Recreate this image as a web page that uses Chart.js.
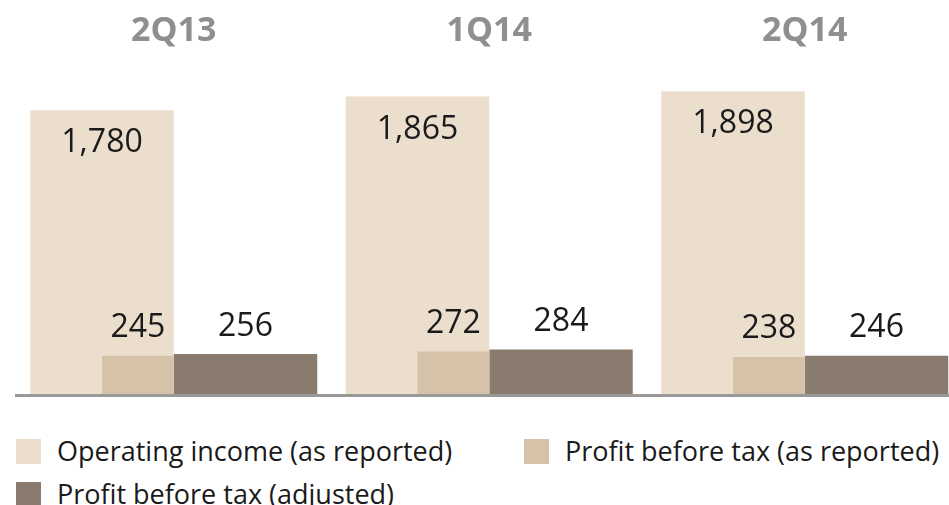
<!DOCTYPE html>
<html lang="en">
<head>
    <meta charset="UTF-8">
    <meta name="viewport" content="width=device-width, initial-scale=1.0">
    <title>Operating income and profit before tax</title>
    <script src="https://cdn.jsdelivr.net/npm/chart.js"></script>
    <style>
        html, body {
            margin: 0;
            padding: 0;
            background: #ffffff;
            width: 949px;
            height: 505px;
            overflow: hidden;
        }
        .chart-box {
            position: absolute;
            left: 0;
            top: 0;
            width: 963px;
            height: 400px;
        }
        .legend {
            position: absolute;
            left: 16px;
            top: 439px;
            display: grid;
            grid-template-columns: 508px 425px;
            row-gap: 17.7px;
            font-family: "Open Sans", sans-serif;
            font-size: 27px;
            color: #1a1a1a;
        }
        .legend-item {
            display: flex;
            align-items: center;
            height: 25px;
        }
        .swatch {
            width: 25px;
            height: 25px;
            margin-right: 16px;
            flex: none;
        }
        .legend-text {
            line-height: 25px;
            position: relative;
            top: -1px;
            white-space: nowrap;
        }
    </style>
</head>
<body>
    <div class="chart-box">
        <canvas id="myChart"></canvas>
    </div>
    <div class="legend" id="legend"></div>

    <script>
        // data
        const quarters = ['2Q13', '1Q14', '2Q14'];
        const operatingIncome = [1780, 1865, 1898];
        const pbtReported = [245, 272, 238];
        const pbtAdjusted = [256, 284, 246];

        const seriesNames = [
            'Operating income (as reported)',
            'Profit before tax (as reported)',
            'Profit before tax (adjusted)'
        ];
        const seriesColors = ['#ebdecc', '#d6c2a8', '#897b6d'];

        // five half-width slots per quarter: income (x2), reported PBT, two empty, adjusted PBT (x2)
        const blank = quarters.map(() => null);

        // reported PBT sits in front of the income bar, so draw it after the others
        const drawLast = {
            id: 'drawLast',
            beforeDatasetDraw(chart, args) {
                if (chart.data.datasets[args.index].drawLast && !chart.$late) return false;
            },
            afterDatasetsDraw(chart) {
                chart.$late = true;
                chart.data.datasets.forEach((ds, i) => {
                    if (ds.drawLast) chart.getDatasetMeta(i).controller.draw();
                });
                chart.$late = false;
            }
        };

        const valueLabels = {
            id: 'valueLabels',
            afterDatasetsDraw(chart) {
                const ctx = chart.ctx;
                ctx.save();
                ctx.font = '32px "Open Sans"';
                ctx.fillStyle = '#1a1a1a';
                ctx.textAlign = 'center';
                ctx.textBaseline = 'alphabetic';
                chart.data.datasets.forEach((ds, i) => {
                    if (!ds.label) return;
                    chart.getDatasetMeta(i).data.forEach((bar, j) => {
                        const y = ds.labelInside ? bar.y + 42 : bar.y - 18.5;
                        ctx.fillText(ds.data[j].toLocaleString('en-US'), bar.x, y);
                    });
                });
                ctx.restore();
            }
        };

        const ctx = document.getElementById('myChart').getContext('2d');
        const myChart = new Chart(ctx, {
            type: 'bar',
            data: {
                labels: quarters,
                datasets: [
                    { label: seriesNames[0], data: operatingIncome, backgroundColor: seriesColors[0], stack: 's1', barPercentage: 4, labelInside: true },
                    { label: seriesNames[1], data: pbtReported, backgroundColor: seriesColors[1], stack: 's2', barPercentage: 2, drawLast: true },
                    { label: '', data: blank, stack: 's3' },
                    { label: '', data: blank, stack: 's4' },
                    { label: seriesNames[2], data: pbtAdjusted, backgroundColor: seriesColors[2], stack: 's5', barPercentage: 4 }
                ]
            },
            options: {
                responsive: true,
                maintainAspectRatio: false,
                animation: false,
                events: [],
                datasets: {
                    bar: {
                        categoryPercentage: 2.5 * 71.75 / 315.5,
                        borderWidth: 0
                    }
                },
                layout: {
                    padding: { left: 16, right: 0.5, top: 10.8, bottom: 5 }
                },
                plugins: {
                    legend: { display: false },
                    tooltip: { enabled: false }
                },
                scales: {
                    x: {
                        type: 'category',
                        position: 'bottom',
                        offset: true,
                        grid: { display: false, drawTicks: false },
                        ticks: { display: false },
                        border: { display: true, color: '#999999', width: 3, z: 1 }
                    },
                    x2: {
                        type: 'category',
                        position: 'top',
                        offset: true,
                        grid: { display: false, drawTicks: false },
                        border: { display: false },
                        ticks: {
                            color: '#8f8f8f',
                            padding: 0,
                            font: { family: 'Open Sans', size: 34, weight: 'bold' }
                        }
                    },
                    y: {
                        display: false,
                        min: 0,
                        max: 2146,
                        stacked: false
                    }
                }
            },
            plugins: [drawLast, valueLabels]
        });

        // legend in the order of the picture
        const legendBox = document.getElementById('legend');
        seriesNames.forEach((name, i) => {
            const item = document.createElement('div');
            item.className = 'legend-item';
            const sw = document.createElement('span');
            sw.className = 'swatch';
            sw.style.background = seriesColors[i];
            const txt = document.createElement('span');
            txt.className = 'legend-text';
            txt.textContent = name;
            item.appendChild(sw);
            item.appendChild(txt);
            legendBox.appendChild(item);
        });
    </script>
</body>
</html>
